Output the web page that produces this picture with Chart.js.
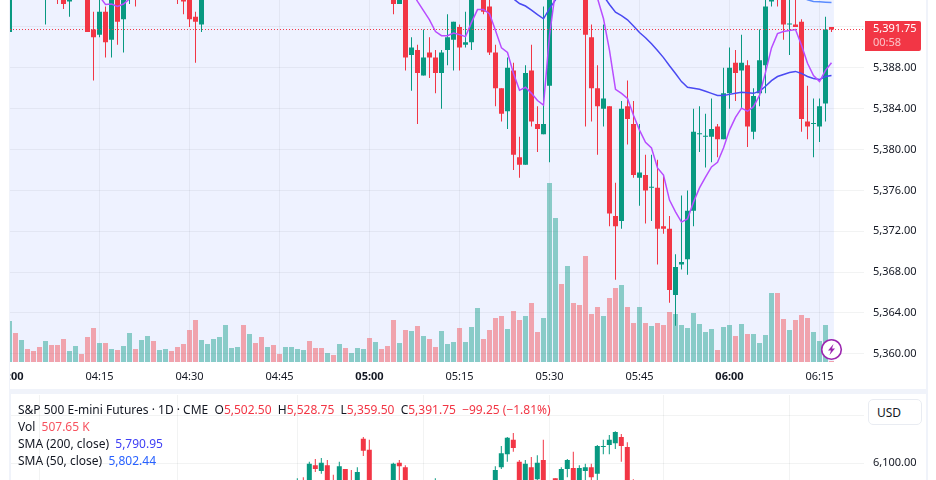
<!DOCTYPE html>
<html>
<head>
<meta charset="utf-8">
<script src="https://cdn.jsdelivr.net/npm/chart.js@4/dist/chart.umd.min.js"></script>
<style>
  html, body { margin: 0; padding: 0; background: #fff; }
  body { position: relative; width: 936px; height: 480px; overflow: hidden; font-family: "Noto Sans", sans-serif; color: #131722; }
  canvas { position: absolute; left: 0; }
  #mainChart { top: 0; }
  #dayChart { top: 395px; }
  .band { position: absolute; background: #f0f3fa; }
  .cover { position: absolute; background: #fff; }
  #lastPrice { position: absolute; left: 865px; top: 21px; width: 56px; height: 30px; background: #f23645; border-radius: 0 2px 2px 0; color: #fff; font-size: 11px; line-height: 14px; }
  #lastPrice div { padding-left: 8px; }
  #lastPrice div + div { color: rgba(255,255,255,.7); }
  #usd { position: absolute; left: 868px; top: 399px; width: 54px; height: 26px; box-sizing: border-box; border: 1px solid #e9ecf2; border-radius: 5px; background: #fff; font-size: 12px; line-height: 25px; padding-left: 8px; }
  #legend { position: absolute; left: 18px; top: 401px; font-size: 12px; }
  #legend > div { height: 17px; line-height: 17px; white-space: nowrap; }
  .up { color: #f23645; }
  #bolt { position: absolute; left: 820px; top: 338px; }
</style>
</head>
<body>
<canvas id="mainChart" width="936" height="390"></canvas>
<canvas id="dayChart" width="936" height="85"></canvas>
<div class="cover" style="left:0;top:0;width:9px;height:480px"></div>
<div class="band" style="left:9px;top:0;width:1px;height:390px"></div>
<div class="band" style="left:9px;top:389px;width:918px;height:5px"></div>
<div class="band" style="left:9px;top:394px;width:2px;height:86px"></div>
<div class="band" style="left:926px;top:0;width:2px;height:480px"></div>
<div id="lastPrice"><div>5,391.75</div><div>00:58</div></div>
<div id="usd">USD</div>
<div id="legend">
  <div>S&amp;P 500 E-mini Futures · 1D · CME&nbsp; O<span class="up">5,502.50</span>&nbsp; H<span class="up">5,528.75</span>&nbsp; L<span class="up">5,359.50</span>&nbsp; C<span class="up">5,391.75</span>&nbsp; <span class="up">−99.25 (−1.81%)</span></div>
  <div>Vol&nbsp; <span style="color:#f7525f">507.65 K</span></div>
  <div>SMA (200, close)&nbsp; <span style="color:#4040f5">5,790.95</span></div>
  <div>SMA (50, close)&nbsp; <span style="color:#2962ff">5,802.44</span></div>
</div>
<svg id="bolt" width="23" height="23" viewBox="0 0 23 23">
  <circle cx="11.5" cy="11.5" r="9.8" fill="#fff" stroke="#9c27b0" stroke-width="1.6"/>
  <path d="M13.5 6 L8 12.6 H11 L9.5 17 L15 10.4 H12 Z" fill="#9c27b0"/>
</svg>
<script>
// one minute candles, index 0 is 04:00
const opens = [5391.5,5399,5397.5,5399.25,5398.5,5397.5,5396.25,5397.5,5396.5,5395.5,
  5394.5,5396.25,5397.25,5396.5,5391.75,5391.25,5393.5,5390.75,5395.5,5392.75,
  5395.25,5396.25,5395,5396,5397,5396,5396.25,5396.75,5396,5395.25,
  5396.5,5393,5392.25,5395,5396,5397,5398,5400,5400.75,5401.25,
  5399,5400.25,5399.25,5398,5398.75,5398.25,5397.75,5398.5,5399,5399.5,
  5400.25,5399.5,5399,5398.5,5399,5398.75,5399.75,5399,5399.5,5400,
  5400.5,5399,5399.75,5399.25,5396.25,5394.25,5396,5389.25,5389.75,5387.25,
  5389.5,5389,5387.5,5389.75,5390.75,5392,5390.25,5390.5,5395.5,5397.5,
  5394,5389.5,5386,5383.75,5387.75,5379.25,5378.5,5387.75,5382.5,5381.5,
  5386.25,5397,5399.5,5398,5399.25,5398,5396.5,5391,5386,5384,
  5384.25,5373.5,5373,5384.25,5382.5,5377.25,5377.5,5376.25,5376.25,5372.5,
  5372.25,5365.75,5368.75,5369.25,5374,5381.5,5381.25,5381.25,5382.25,5381,
  5385.5,5388.5,5387.75,5388.25,5381.75,5385.5,5388.25,5394.5,5397.5,5396.5,
  5392.25,5392.25,5392.5,5382.75,5382.5,5382.25,5384.5,5392];
const highs = [5396.5,5399.5,5399.75,5400,5399,5398,5398,5398,5397,5396,
  5396.75,5397.75,5398.25,5397,5393.5,5394.75,5394,5396,5396,5396,
  5396.75,5396.75,5396.5,5397.5,5397.5,5396.75,5397,5397,5396.5,5395.75,
  5397,5393.5,5396,5396.5,5397.5,5398.5,5400.5,5401,5401.75,5401.75,
  5400.75,5400.75,5399.75,5399,5399.25,5398.5,5398.75,5399.5,5400,5400.5,
  5400.75,5400,5399.5,5399.25,5399.25,5400,5400,5399.75,5400.5,5400.75,
  5400.75,5400,5400,5399.5,5396.75,5397,5396.5,5391,5390.25,5391.75,
  5391,5389.75,5389.75,5393.25,5392.5,5392.25,5393.5,5396,5398,5398,
  5394.75,5390.25,5386,5389,5388.5,5381.25,5388.25,5390.25,5384.25,5394,
  5398,5401.5,5400,5400,5399.75,5398.5,5397,5392.25,5388.25,5392.25,
  5384.25,5376.75,5384.75,5386.75,5384.75,5382.5,5379.5,5379.5,5379,5377.5,
  5373.5,5369.75,5375.5,5376,5384,5384.25,5383.5,5385,5382.5,5388,
  5390,5389.75,5391.25,5388.75,5386,5391.75,5395.25,5396.75,5398,5397,
  5395.5,5394.75,5392.75,5386.25,5385,5385,5393,5392];
const lows = [5391.5,5397,5397,5398.25,5397.25,5396.25,5392.25,5396,5394.25,5393.75,
  5393,5395.5,5396,5391.5,5386.75,5391,5389,5389,5390.25,5389.5,
  5394.25,5394,5394.75,5395.75,5395.75,5395.5,5395.75,5395.5,5394.25,5393.25,
  5392,5388.5,5391.5,5394.75,5395.5,5396.5,5397.5,5399.5,5400.25,5398.5,
  5398.5,5398.75,5397.5,5397.5,5397.75,5397.5,5397.25,5398,5398.5,5399.25,
  5399,5398.75,5398.25,5398.25,5398.5,5398.5,5398.75,5398.75,5399.25,5399.75,
  5398.75,5398.5,5399,5398,5393.25,5394.25,5387.75,5385.75,5382.5,5387.25,
  5387,5385.5,5384,5388.25,5387.75,5387.75,5390,5389.75,5395,5393.25,
  5389.25,5384.25,5382.75,5382,5378,5377.25,5378.5,5382.25,5379.75,5381.5,
  5378.75,5396,5397.5,5397.5,5397.5,5396,5382.25,5382.75,5379.5,5382.25,
  5372.5,5367.25,5372.25,5380.5,5377.25,5374.5,5372.75,5373,5368.75,5371.75,
  5365,5362.75,5368.25,5367.75,5372.5,5379.75,5378.25,5378.75,5379.25,5381,
  5384,5384.75,5384,5380.25,5381,5384.25,5385.5,5394,5394,5390.75,
  5389.25,5392,5381.75,5381,5379.25,5380.75,5382.75,5391.5];
const closes = [5396,5397.5,5399.25,5398.5,5397.5,5396.75,5397.5,5396.5,5395.25,5394.25,
  5396.25,5397.25,5396.5,5391.5,5391,5393.5,5390.5,5395.5,5392.5,5395.25,
  5396.25,5395,5396.25,5397,5396,5396.5,5396.75,5396,5395,5394.5,
  5392.75,5392.5,5395.5,5396,5397,5398,5400,5400.75,5401.25,5399,
  5400.25,5399.25,5398,5398.75,5398.25,5397.75,5398.5,5399,5399.5,5400.25,
  5399.5,5399,5398.5,5399,5398.75,5399.75,5399,5399.5,5400,5400.5,
  5399,5399.75,5399.25,5398.5,5394.25,5396,5389,5390,5387.5,5389,
  5389,5387.5,5389.5,5391,5392.5,5390,5390.5,5395.5,5397.5,5393.5,
  5389.5,5386,5383.5,5388,5379.5,5378.5,5387.5,5382.75,5382,5382.5,
  5397,5399.5,5398,5399.25,5398,5396.5,5391.25,5386,5384.25,5385,
  5373.75,5372.5,5384,5383,5377.5,5377.75,5376,5376.25,5372.25,5372.25,
  5366.25,5368.5,5369,5374,5381.75,5381.5,5381.25,5382,5381,5385.5,
  5388,5387.5,5388.5,5382.25,5385.25,5388.75,5394,5396,5395.5,5392.25,
  5392.25,5392,5383,5382.25,5382.5,5384.25,5391.75,5391.75];
const volumes = [410,290,220,130,110,150,210,170,170,230,110,160,80,250,340,190,190,130,120,160,
  290,130,220,260,210,120,130,110,150,180,320,420,220,180,230,250,370,140,150,370,
  280,190,250,150,170,80,150,150,130,120,210,140,140,90,70,180,140,90,140,130,
  240,200,130,160,420,190,320,310,360,260,230,150,310,180,200,340,200,350,540,230,
  320,440,460,330,510,420,460,590,300,440,1790,1440,780,960,590,570,1060,480,550,460,
  640,740,770,550,390,550,390,360,390,370,500,480,370,340,490,380,300,330,120,350,
  370,260,380,280,280,190,270,690,690,430,320,420,470,440,300,210,370,10];

// moving averages, each piece starts at the given minute index
const purpleStartA = 14;
const purpleA = [5395.5,5395,5394.2,5394.25,5394,5394.25,5394.75,5395.5];
const purpleStartB = 67;
const purpleB = [5395.5,5394.5,5393.6,5392.7,5391.55,5391.15,5391.15,5391.4,5391.25,5391.05,
  5392.45,5393.7,5393.7,5393.3,5391.65,5389.95,5389.5,5387.45,5385.8,5386.1,
  5385.5,5384.8,5384.35,5391.15,5395.55];
const purpleStartC = 97;
const purpleC = [5397,5394.8,5392.8,5389.7,5385.9,5385.5,5385,5383.35,5381.9,5380.7,
  5380.15,5378.2,5377.5,5375.05,5373.9,5372.9,5373.2,5374.85,5376.25,5377.3,
  5378.3,5378.75,5380.15,5381.9,5383.15,5384.05,5383.75,5384.2,5385.3,5387.55,
  5389.95,5391.35,5391.55,5391.65,5391.75,5390.2,5388.45,5387.25,5386.65,5387.75,5388.5];
const blueStartA = 83;
const blueA = [5395,5394.75,5394.3,5394.05,5393.65,5393.2,5392.8,5393.8,5394.65,5395.5];
const blueStartB = 98;
const blueB = [5396,5395.05,5394.2,5393.45,5393.1,5392.7,5392.1,5391.45,5390.95,5390.35,
  5389.7,5389,5388.2,5387.45,5386.65,5386.1,5386,5385.9,5385.7,5385.5,
  5385.3,5385.3,5385.4,5385.5,5385.6,5385.55,5385.5,5385.7,5386.2,5386.75,
  5387.15,5387.35,5387.55,5387.65,5387.45,5387.15,5386.95,5386.85,5387.15,5387.25];
const lightStart = 132;
const lightBlue = [5395,5394.65,5394.5,5394.47,5394.43,5394.4];
const lastClose = 5391.75;

// the daily pane below, index counts trading days on its own axis
const dayIdx = [49,50,51,52,53,54,55,56,57,58,59,60,61,65,66,67,72,82,83,84,85,86,87,88,89,90,92,93,94,95,96,97,98,99,100,101,102,103,104,105];
const dayOpen = [6040,6060,6055,6096,6084,6096,6060,6045,6088,6062,6050,6151,6128,6050,6101,6092,6040,6050,6092,6119,6149,6103,6050,6092,6067,6107,6069,6050,6088,6090,6050,6084,6092,6078,6134,6138,6142,6155,6134,6060];
const dayHigh = [6069,6071,6103,6109,6111,6107,6076,6103,6088,6086,6092,6155,6149,6101,6107,6096,6069,6094,6136,6155,6163,6107,6107,6113,6117,6149,6069,6092,6109,6124,6096,6099,6099,6138,6149,6159,6167,6161,6144,6067];
const dayLow = [6030,6035,6050,6082,6078,6040,6035,6040,6045,6045,6045,6115,6045,6045,6050,6045,6035,6045,6088,6103,6124,6045,6045,6045,6050,6045,6045,6045,6071,6045,6045,6060,6060,6060,6119,6119,6130,6103,6045,6035];
const dayClose = [6055,6040,6099,6088,6101,6050,6045,6094,6050,6050,6082,6126,6050,6099,6094,6050,6060,6086,6121,6153,6132,6050,6099,6050,6101,6050,6050,6088,6107,6050,6090,6092,6071,6136,6134,6149,6165,6136,6050,6040];
const dayMonths = [6,29,49,70,91,110,131];

const GREEN = '#089981';
const RED = '#f23645';
const GRID = 'rgba(42,46,57,0.06)';
const TEXT = '#131722';
const FONT = '"Noto Sans", sans-serif';

Chart.defaults.animation = false;
Chart.defaults.font.family = FONT;

const fmtPrice = (v) => v.toLocaleString('en-US', {minimumFractionDigits: 2, maximumFractionDigits: 2});
const fmtMinute = (m) => {
	const total = 240 + m;
	const hh = Math.floor(total / 60);
	const mm = total % 60;
	return (hh < 10 ? '0' : '') + hh + ':' + (mm < 10 ? '0' : '') + mm;
};
const noPadding = (scale) => {
	scale.paddingLeft = 0;
	scale.paddingRight = 0;
	scale.paddingTop = 0;
	scale.paddingBottom = 0;
};
const fitX = (h) => (scale) => { noPadding(scale); scale.height = h; };
const fitY = (scale) => { noPadding(scale); scale.width = 62; };

const candleSets = (xs, o, h, l, c) => {
	const colors = o.map((v, i) => (c[i] >= v ? GREEN : RED));
	return [
		{
			type: 'bar',
			data: xs.map((x, i) => ({x: x, y: [l[i], h[i]]})),
			backgroundColor: colors,
			barThickness: 1,
			grouped: false,
			inflateAmount: 0,
			borderWidth: 0,
			yAxisID: 'y',
			order: 3
		},
		{
			type: 'bar',
			data: xs.map((x, i) => ({x: x, y: [o[i], c[i]]})),
			backgroundColor: colors,
			barThickness: 5,
			minBarLength: 1,
			grouped: false,
			inflateAmount: 0,
			borderWidth: 0,
			yAxisID: 'y',
			order: 2
		}
	];
};
const smaSet = (start, vals, color) => ({
	type: 'line',
	data: vals.map((v, i) => ({x: start + i, y: v})),
	borderColor: color,
	borderWidth: 1.5,
	pointRadius: 0,
	tension: 0,
	yAxisID: 'y',
	order: 1
});

const minutes = opens.map((v, i) => i);
const X_MAX = 142.417;

// session tint stops half a bar after the last candle
const sessionTint = {
	id: 'sessionTint',
	beforeDraw(chart) {
		const {ctx, chartArea, scales} = chart;
		const right = scales.x.getPixelForValue(137.4);
		ctx.save();
		ctx.fillStyle = '#eef2ff';
		ctx.fillRect(chartArea.left, chartArea.top, right - chartArea.left, chartArea.bottom - chartArea.top);
		ctx.restore();
	}
};

new Chart(document.getElementById('mainChart').getContext('2d'), {
	data: {
		datasets: [
			{
				type: 'bar',
				data: minutes.map((m) => ({x: m, y: volumes[m]})),
				backgroundColor: minutes.map((m) => (closes[m] >= opens[m] ? 'rgba(8,153,129,0.44)' : 'rgba(242,54,60,0.42)')),
				barThickness: 5,
				grouped: false,
				inflateAmount: 0,
				borderWidth: 0,
				yAxisID: 'yVol',
				order: 5
			},
			...candleSets(minutes, opens, highs, lows, closes),
			smaSet(purpleStartA, purpleA, '#b84dff'),
			smaSet(purpleStartB, purpleB, '#b84dff'),
			smaSet(purpleStartC, purpleC, '#b84dff'),
			smaSet(blueStartA, blueA, '#4a4af2'),
			smaSet(blueStartB, blueB, '#4a4af2'),
			smaSet(lightStart, lightBlue, '#5a8cff'),
			{
				type: 'line',
				// starts on a whole pixel so the dots stay crisp
				data: [{x: 0.0833, y: lastClose}, {x: X_MAX, y: lastClose}],
				borderColor: RED,
				borderWidth: 1,
				borderDash: [1, 2],
				pointRadius: 0,
				yAxisID: 'y',
				order: 0
			}
		]
	},
	options: {
		responsive: false,
		devicePixelRatio: 1,
		layout: {padding: {left: 9.5, right: 10, top: 0, bottom: 0}},
		plugins: {legend: {display: false}, tooltip: {enabled: false}},
		scales: {
			x: {
				type: 'linear',
				offset: false,
				min: 0,
				max: X_MAX,
				afterFit: fitX(28),
				border: {display: false},
				grid: {color: GRID, drawTicks: false, offset: false},
				ticks: {
					stepSize: 15,
					includeBounds: false,
					autoSkip: false,
					maxRotation: 0,
					padding: 8,
					color: TEXT,
					font: (c) => ({size: 11, family: FONT, weight: c.tick && c.tick.value % 60 === 0 ? 'bold' : 'normal'}),
					callback: (v) => fmtMinute(v)
				}
			},
			y: {
				position: 'right',
				min: 5359.2,
				max: 5394.64,
				afterFit: fitY,
				border: {display: false},
				grid: {color: GRID, drawTicks: false},
				ticks: {
					stepSize: 4,
					includeBounds: false,
					padding: 9,
					color: TEXT,
					font: {size: 11},
					callback: (v) => fmtPrice(v)
				}
			},
			yVol: {display: false, min: 0, max: 3620}
		}
	},
	plugins: [sessionTint]
});

new Chart(document.getElementById('dayChart').getContext('2d'), {
	data: {datasets: candleSets(dayIdx, dayOpen, dayHigh, dayLow, dayClose)},
	options: {
		responsive: false,
		devicePixelRatio: 1,
		layout: {padding: {left: 9.5, right: 10, top: 0, bottom: 0}},
		plugins: {legend: {display: false}, tooltip: {enabled: false}},
		scales: {
			x: {
				type: 'linear',
				offset: false,
				min: 1.03,
				max: 143.45,
				afterFit: fitX(0),
				afterBuildTicks: (scale) => { scale.ticks = dayMonths.map((m) => ({value: m})); },
				border: {display: false},
				grid: {color: 'rgba(42,46,57,0.06)', drawTicks: false, offset: false},
				ticks: {display: false}
			},
			y: {
				position: 'right',
				min: 6065.2,
				max: 6242.3,
				afterFit: fitY,
				border: {display: false},
				grid: {color: 'rgba(42,46,57,0.06)', drawTicks: false},
				ticks: {
					stepSize: 100,
					includeBounds: false,
					padding: 9,
					color: TEXT,
					font: {size: 11},
					callback: (v) => fmtPrice(v)
				}
			}
		}
	}
});
</script>
</body>
</html>
